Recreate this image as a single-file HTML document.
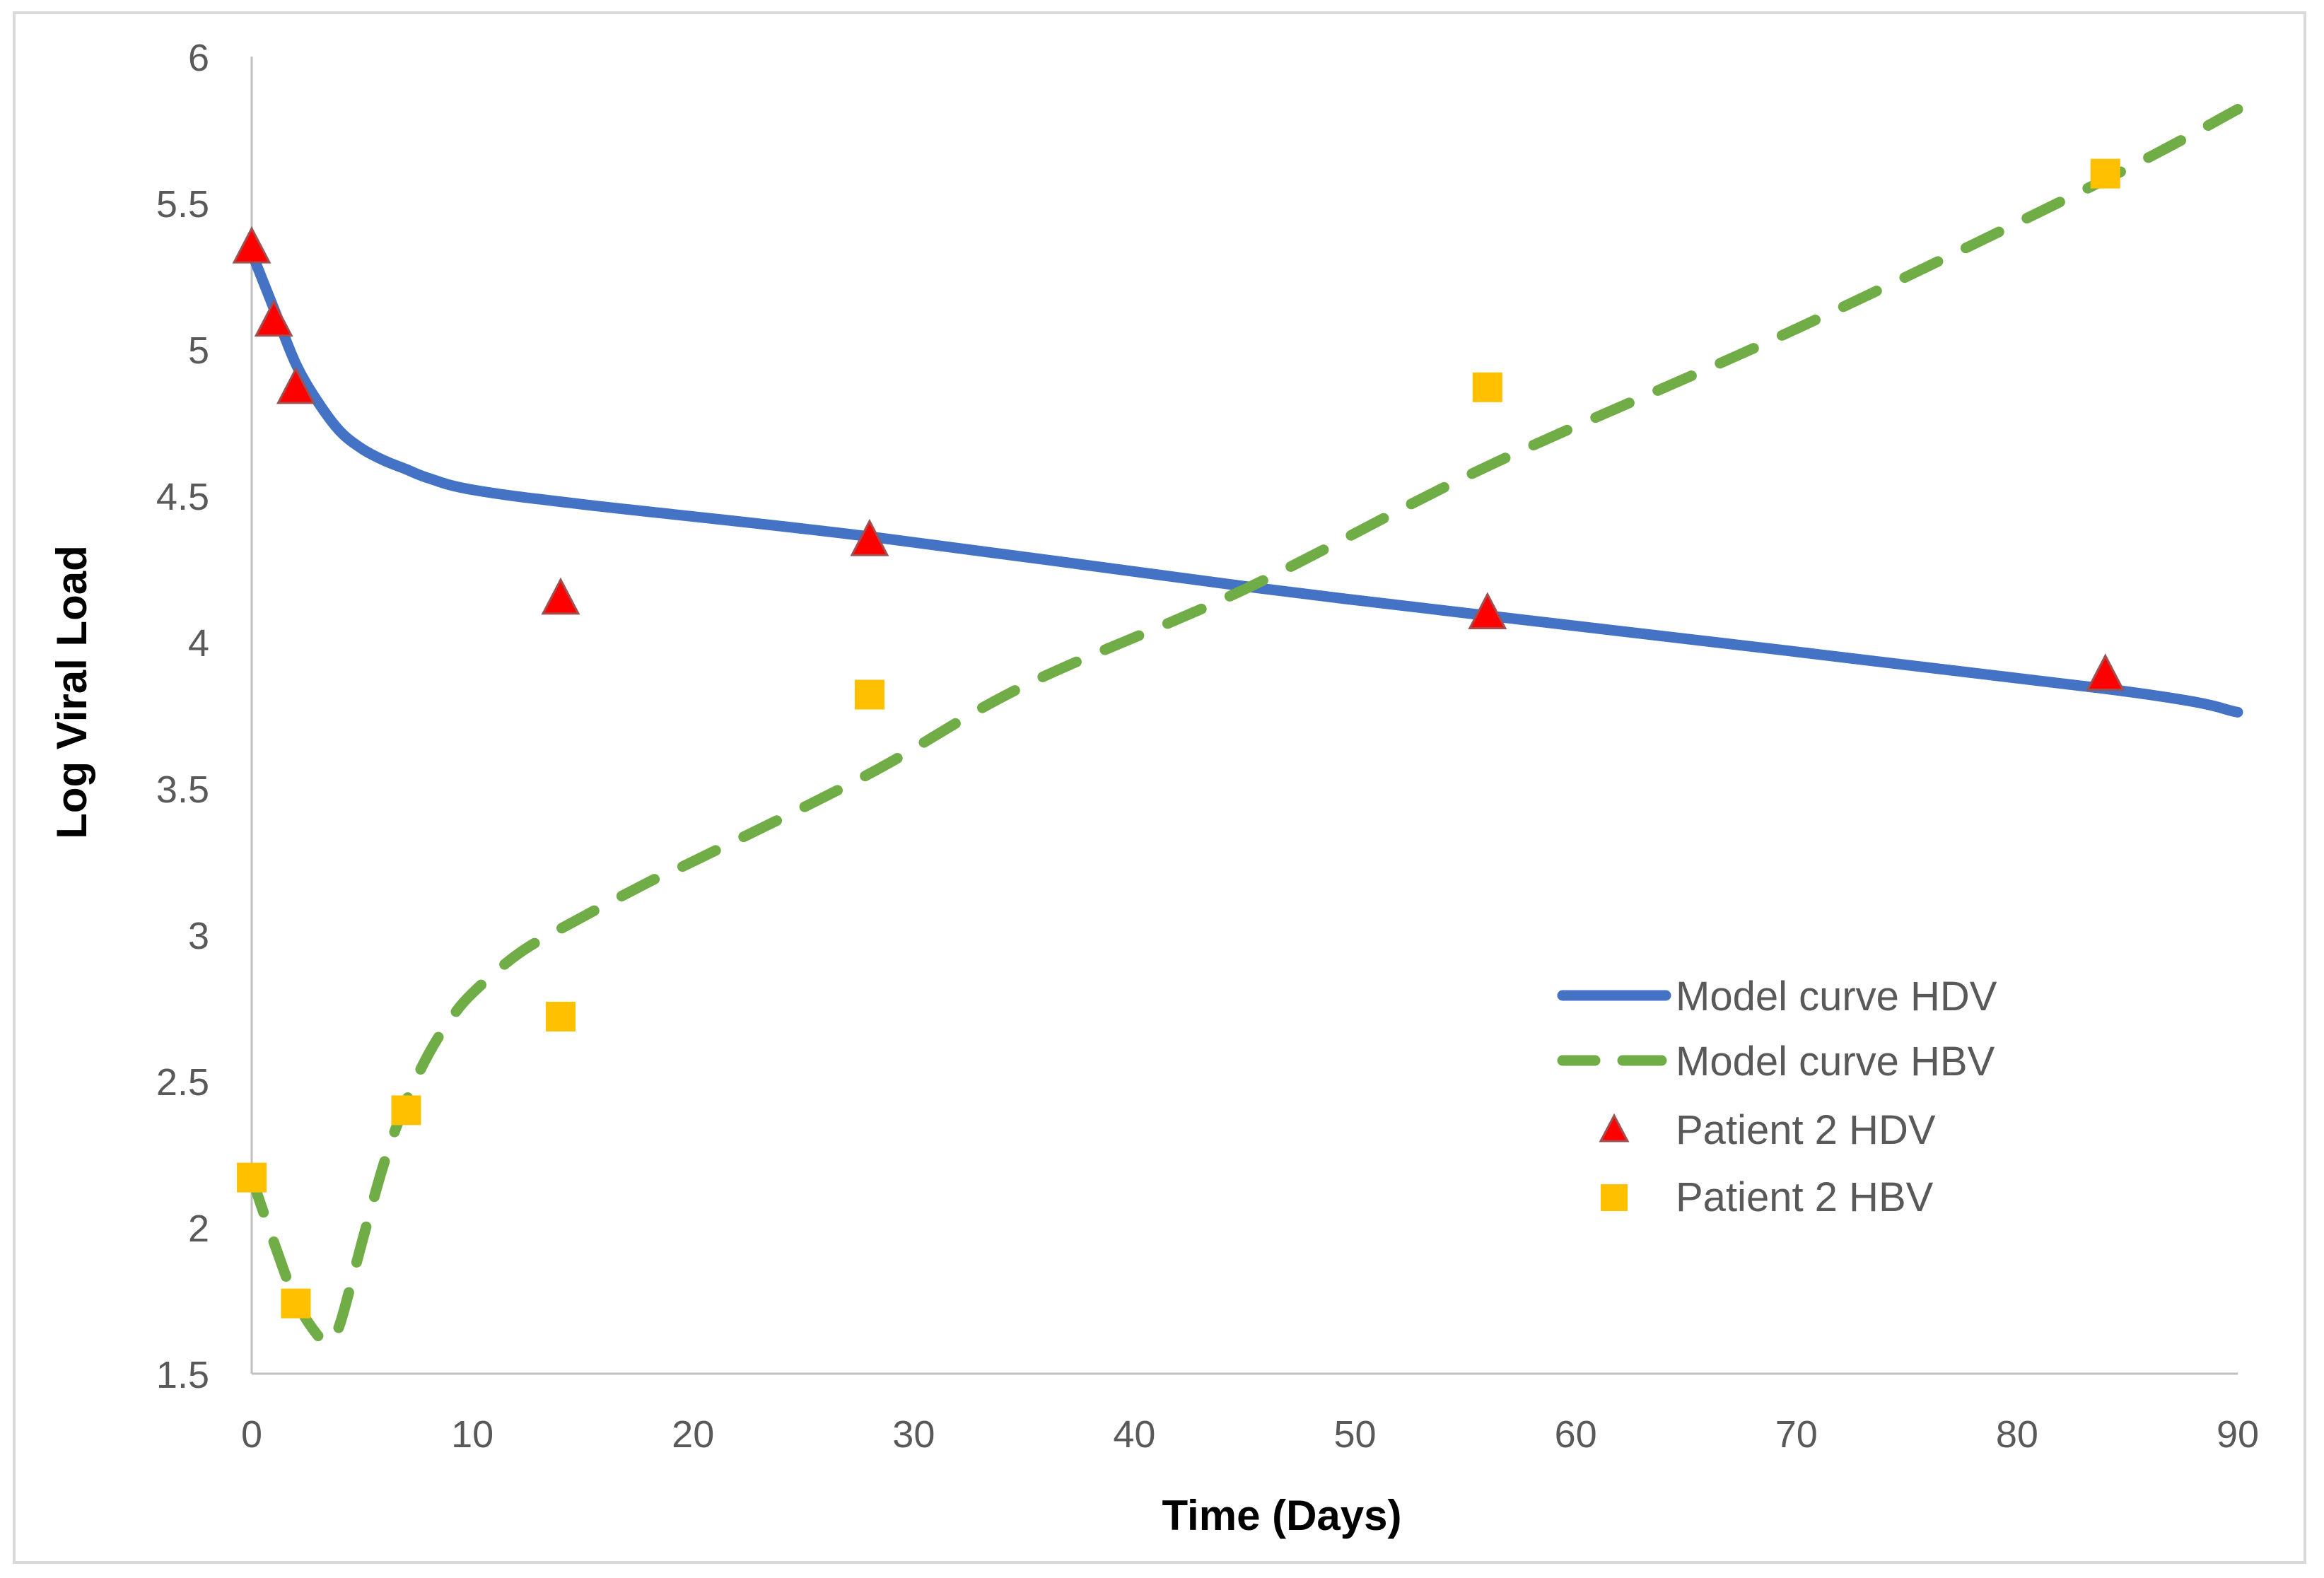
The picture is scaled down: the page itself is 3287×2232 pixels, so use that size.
<!DOCTYPE html>
<html><head><meta charset="utf-8"><style>
html,body{margin:0;padding:0;background:#fff;}
svg{display:block;font-family:"Liberation Sans",sans-serif;}
</style></head><body>
<svg id="chart" width="3287" height="2232" viewBox="0 0 3287 2232">
<rect x="20" y="18" width="3240" height="2192" fill="#fff" stroke="#d9d9d9" stroke-width="4"/>
<g id="axes"></g>
<g id="series"></g>
<text x="122" y="979" transform="rotate(-90 122 979)" text-anchor="middle" font-size="60" font-weight="bold" fill="#000">Log Viral Load</text>
<text x="1813" y="2164" text-anchor="middle" font-size="60" font-weight="bold" fill="#000">Time (Days)</text>
<g>
 <g>
  <line x1="2210" y1="1408" x2="2356" y2="1408" stroke="#4472c4" stroke-width="15" stroke-linecap="round"/>
  <text x="2370" y="1429" font-size="58" fill="#595959">Model curve HDV</text>
 </g>
 <g>
  <line x1="2210" y1="1500" x2="2256" y2="1500" stroke="#70ad47" stroke-width="15" stroke-linecap="round"/>
  <line x1="2295" y1="1500" x2="2350" y2="1500" stroke="#70ad47" stroke-width="15" stroke-linecap="round"/>
  <text x="2370" y="1521" font-size="58" fill="#595959">Model curve HBV</text>
 </g>
 <g>
  <polygon points="2283,1578 2264,1614 2302,1614" fill="#ff0000" stroke="#a05050" stroke-width="3"/>
  <text x="2370" y="1618" font-size="58" fill="#595959">Patient 2 HDV</text>
 </g>
 <g>
  <rect x="2264" y="1675" width="38" height="38" fill="#ffc000"/>
  <text x="2370" y="1713" font-size="58" fill="#595959">Patient 2 HBV</text>
 </g>
</g>
</svg>
<script>
const xTicks = [0,10,20,30,40,50,60,70,80,90];
const yTicks = [1.5,2,2.5,3,3.5,4,4.5,5,5.5,6];
const yTickLabels = ["1.5","2","2.5","3","3.5","4","4.5","5","5.5","6"];
const hdvModelDays = [0,1,2,3,4,5,6,7,8,10,15,28,45,56,84,90];
const hdvModelValues = [5.33,5.14,4.95,4.82,4.72,4.66,4.62,4.59,4.56,4.52,4.47,4.36,4.19,4.09,3.84,3.76];
const hbvModelDays = [0,1,2,3,3.5,4,5,6,7,8,9,10,12,14,18,20,28,35,45,56,70,84,90];
const hbvModelValues = [2.17,1.95,1.75,1.63,1.61,1.67,1.95,2.22,2.43,2.59,2.71,2.8,2.93,3.02,3.18,3.25,3.55,3.85,4.18,4.6,5.07,5.58,5.82];
const hdvDays = [0,1,2,14,28,56,84];
const hdvValues = [5.35,5.1,4.87,4.15,4.35,4.1,3.89];
const hbvDays = [0,2,7,14,28,56,84];
const hbvValues = [2.17,1.74,2.4,2.72,3.82,4.87,5.6];

const NS="http://www.w3.org/2000/svg";
const X0=356,X1=3165,Y0=1943,Y1=80;
function xs(d){return X0+(d-0)/(90-0)*(X1-X0);}
function ys(v){return Y0-(v-1.5)/(6-1.5)*(Y0-Y1);}
function mk(tag,attrs,parent){const e=document.createElementNS(NS,tag);for(const k in attrs)e.setAttribute(k,attrs[k]);parent.appendChild(e);return e;}
const axes=document.getElementById('axes'),series=document.getElementById('series');

const ya=mk('line',{x1:X0,y1:Y1,x2:X0,y2:Y0,stroke:'#bfbfbf','stroke-width':3},axes);


const xa=mk('line',{x1:X0,y1:Y0,x2:X1,y2:Y0,stroke:'#bfbfbf','stroke-width':3},axes);


yTicks.forEach((v,i)=>{
  const t=mk('text',{x:296,y:ys(v)+20,'text-anchor':'end','font-size':54,fill:'#595959'},axes);
  t.textContent=yTickLabels[i];
  
  
});
xTicks.forEach(d=>{
  const t=mk('text',{x:xs(d),y:2047,'text-anchor':'middle','font-size':54,fill:'#595959'},axes);
  t.textContent=String(d);
  
  
});
function smooth(days,vals){
  const p=days.map((d,i)=>[xs(d),ys(vals[i])]);
  let s='M'+p[0][0]+','+p[0][1];
  for(let i=0;i<p.length-1;i++){
    const a=p[Math.max(0,i-1)],b=p[i],c=p[i+1],d=p[Math.min(p.length-1,i+2)];
    const c1=[b[0]+(c[0]-a[0])/6,b[1]+(c[1]-a[1])/6],c2=[c[0]-(d[0]-b[0])/6,c[1]-(d[1]-b[1])/6];
    s+=' C'+c1[0]+','+c1[1]+' '+c2[0]+','+c2[1]+' '+c[0]+','+c[1];
  }
  return s;
}
const hd=mk('path',{d:smooth(hdvModelDays,hdvModelValues),fill:'none',stroke:'#4472c4','stroke-width':15,'stroke-linecap':'round'},series);


const hb=mk('path',{d:smooth(hbvModelDays,hbvModelValues),fill:'none',stroke:'#70ad47','stroke-width':15,'stroke-linecap':'round','stroke-dasharray':'52 44'},series);


hdvDays.forEach((d,i)=>{
  const cx=xs(d),cy=ys(hdvValues[i]);
  const t=mk('polygon',{points:`${cx},${cy-26} ${cx-25},${cy+22} ${cx+25},${cy+22}`,fill:'#ff0000',stroke:'#a05050','stroke-width':3},series);
  
  
});
hbvDays.forEach((d,i)=>{
  const cx=xs(d),cy=ys(hbvValues[i]);
  const r=mk('rect',{x:cx-21,y:cy-21,width:42,height:42,fill:'#ffc000'},series);
  
  
});
</script>
</body></html>
